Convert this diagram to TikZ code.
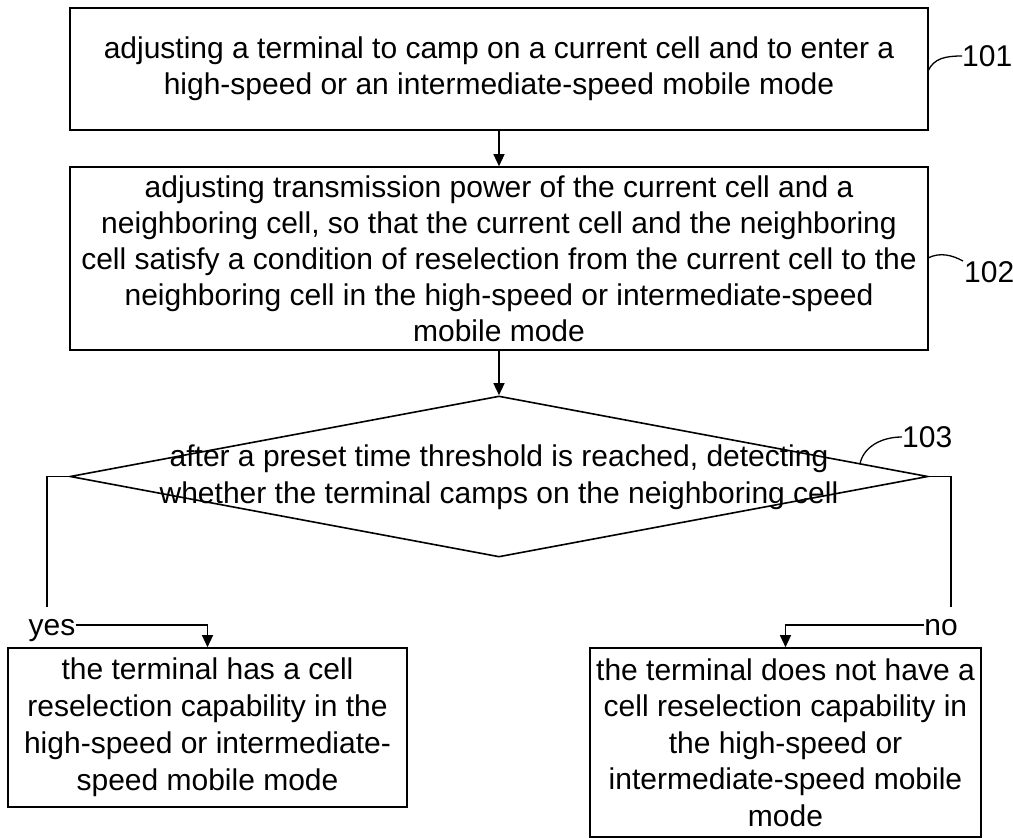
\documentclass[tikz,border=0pt]{standalone}
\usepackage{fontspec}
\setmainfont{Liberation Sans}
\usetikzlibrary{arrows.meta,shapes.geometric}
\begin{document}
\begin{tikzpicture}[x=1pt,y=-1pt,
  txt/.style={font=\fontsize{30}{36}\selectfont, align=center, inner sep=0pt},
  box/.style={txt, draw, line width=1.6pt},
  ln/.style={line width=1.3pt},
  arr/.style={line width=1.3pt, -{Triangle[length=12pt,width=11pt]}},
  lab/.style={font=\fontsize{30}{36}\selectfont, inner sep=0pt, anchor=west}]
\useasboundingbox (0,0) rectangle (1013,838);
\node[box, minimum width=858pt, minimum height=122pt] (b1) at (499,69)
  {adjusting a terminal to camp on a current cell and to enter a\\high-speed or an intermediate-speed mobile mode};
\node[box, minimum width=858pt, minimum height=183pt] (b2) at (499,258.5)
  {adjusting transmission power of the current cell and a\\neighboring cell, so that the current cell and the neighboring\\cell satisfy a condition of reselection from the current cell to the\\neighboring cell in the high-speed or intermediate-speed\\mobile mode};
\node[diamond, draw, line width=1.6pt, minimum width=858pt, minimum height=161pt, inner sep=0pt] (d) at (499,476.5) {};
\node[txt, font=\fontsize{30}{37}\selectfont] (dt) at (499,477.5)
  {after a preset time threshold is reached, detecting\\whether the terminal camps on the neighboring cell};
\node[box, font=\fontsize{30}{37}\selectfont, minimum width=399pt, minimum height=159pt] (yb) at (207.5,727.5)
  {the terminal has a cell\\reselection capability in the\\high-speed or intermediate-\\speed mobile mode};
\node[box, font=\fontsize{30}{36.5}\selectfont, minimum width=391pt, minimum height=189pt] (nb) at (785.5,742.5)
  {the terminal does not have a\\cell reselection capability in\\the high-speed or\\intermediate-speed mobile\\mode};
\node[txt, anchor=base] (yes) at (52,635) {yes};
\node[txt, anchor=base] (no) at (941,635) {no};
\coordinate (yl) at (47,607);
\coordinate (nl) at (951,607);
\draw[arr] (b1.south) -- (b2.north);
\draw[arr] (b2.south) -- (d.north);
\draw[ln] (d.west) -- (d.west -| yl) -- (yl);
\draw[ln] (d.east) -- (d.east -| nl) -- (nl);
\draw[arr] ([yshift=10pt]yes.base east) -| (yb.north);
\draw[arr] ([yshift=10pt]no.base west) -| (nb.north);
% reference labels
\node[lab] (l1) at (962,56) {101};
\node[lab] (l2) at (964,272) {102};
\node[lab] (l3) at (902,437) {103};
\draw[ln] (928,71) .. controls (934,58) and (946,56) .. (l1.west);
\draw[ln] (928,258) .. controls (940,252) and (952,255) .. (963,261);
\draw[ln] (860,464) .. controls (863,448) and (880,437) .. (l3.west);
\end{tikzpicture}
\end{document}
